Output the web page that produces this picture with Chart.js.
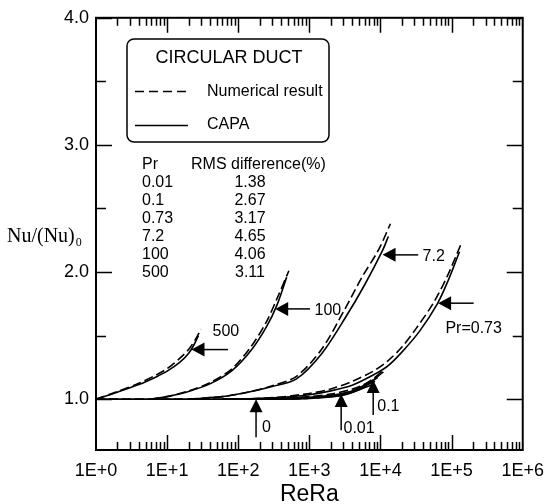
<!DOCTYPE html>
<html>
<head>
<meta charset="utf-8">
<script src="https://cdn.jsdelivr.net/npm/chart.js@4.4.0/dist/chart.umd.min.js"></script>
<style>
  html, body { margin: 0; padding: 0; background: #fff; }
  canvas { display: block; }
</style>
</head>
<body>
<canvas id="chart" width="554" height="504"></canvas>
<script>
// Nu/(Nu)0 vs ReRa, circular duct: numerical result (dashed) and CAPA (solid)
const num500X = [1, 2, 4, 7, 10, 15, 20, 25, 30];
const num500Y = [1.00, 1.06, 1.125, 1.19, 1.24, 1.32, 1.39, 1.47, 1.55];
const capa500X = [1, 2, 4, 7, 10, 15, 20, 24, 27.5];
const capa500Y = [1.00, 1.055, 1.115, 1.175, 1.22, 1.29, 1.36, 1.43, 1.50];

const num100X = [6, 10, 20, 40, 80, 150, 250, 350, 515];
const num100Y = [1.00, 1.02, 1.065, 1.13, 1.235, 1.41, 1.61, 1.79, 2.01];
const capa100X = [6, 10, 20, 40, 80, 150, 250, 350, 480];
const capa100Y = [1.00, 1.02, 1.06, 1.12, 1.22, 1.38, 1.57, 1.74, 1.96];

const num72X = [20, 60, 125, 300, 660, 1480, 3100, 5500, 9300, 13800];
const num72Y = [1.00, 1.02, 1.05, 1.105, 1.18, 1.39, 1.70, 1.96, 2.17, 2.38];
const capa72X = [20, 60, 125, 300, 660, 1500, 3200, 6000, 10700, 12900];
const capa72Y = [1.00, 1.02, 1.05, 1.10, 1.16, 1.36, 1.64, 1.90, 2.17, 2.28];

const num073X = [100, 316, 1000, 2000, 4000, 7900, 12600, 20000, 31600, 56000, 89000, 138000];
const num073Y = [1.00, 1.012, 1.045, 1.08, 1.14, 1.22, 1.30, 1.41, 1.555, 1.76, 1.98, 2.23];
const capa073X = [100, 316, 1000, 2000, 4000, 7900, 12600, 20000, 35500, 63000, 89000, 129000];
const capa073Y = [1.00, 1.01, 1.035, 1.065, 1.11, 1.19, 1.26, 1.37, 1.535, 1.75, 1.93, 2.16];

const num01X = [60, 300, 1000, 2000, 4000, 7100, 11200];
const num01Y = [1.00, 1.006, 1.02, 1.04, 1.08, 1.14, 1.235];
const capa01X = [60, 300, 1000, 2000, 4000, 7800, 11000];
const capa01Y = [1.00, 1.005, 1.015, 1.03, 1.065, 1.15, 1.215];

const num001X = [60, 300, 1000, 2700, 5000, 9500];
const num001Y = [1.00, 1.004, 1.013, 1.04, 1.09, 1.19];
const capa001X = [60, 300, 1000, 2700, 5000, 9100];
const capa001Y = [1.00, 1.003, 1.01, 1.03, 1.075, 1.17];

const num0X = [1, 30, 170, 1000, 3200, 8400];
const num0Y = [1.00, 1.00, 1.00, 1.008, 1.045, 1.14];
const capa0X = [1, 30, 170, 1000, 3200, 8000];
const capa0Y = [1.00, 1.00, 1.00, 1.006, 1.035, 1.12];

const xTicks = [1, 10, 100, 1000, 10000, 100000, 1000000];
const yTicks = [1, 2, 3, 4];
const yHalfTicks = [1.5, 2.5, 3.5];

const tablePr = ['0.01', '0.1', '0.73', '7.2', '100', '500'];
const tableRms = ['1.38', '2.67', '3.17', '4.65', '4.06', '3.11'];

// curve labels and arrows, in data units
const curveLabels = [
    { text: '500', x: 67, y: 1.53 },
    { text: '100', x: 1820, y: 1.695 },
    { text: '7.2', x: 56000, y: 2.125 },
    { text: 'Pr=0.73', x: 204000, y: 1.555 },
    { text: '0', x: 250, y: 0.78 },
    { text: '0.01', x: 5000, y: 0.77 },
    { text: '0.1', x: 12900, y: 0.94 }
];
const leftArrows = [
    { tip: 22, tail: 72, y: 1.39 },
    { tip: 331, tail: 1020, y: 1.71 },
    { tip: 10700, tail: 33900, y: 2.135 },
    { tip: 64600, tail: 204000, y: 1.755 }
];
const upArrows = [
    { x: 178, tip: 1.0, tail: 0.70 },
    { x: 2800, tip: 1.04, tail: 0.755 },
    { x: 7900, tip: 1.15, tail: 0.875 }
];

const SANS = '"Liberation Sans", Arial, sans-serif';
const SERIF = '"Liberation Serif", "Times New Roman", serif';

function pts(xs, ys) {
    return xs.map((v, i) => ({ x: v, y: ys[i] }));
}

function curve(xs, ys, dashed) {
    return {
        data: pts(xs, ys),
        borderColor: '#000',
        borderWidth: 1.6,
        borderDash: dashed ? [9, 4] : [],
        pointRadius: 0,
        fill: false,
        tension: 0.3
    };
}

const datasets = [
    curve(num500X, num500Y, true), curve(capa500X, capa500Y, false),
    curve(num100X, num100Y, true), curve(capa100X, capa100Y, false),
    curve(num72X, num72Y, true), curve(capa72X, capa72Y, false),
    curve(num073X, num073Y, true), curve(capa073X, capa073Y, false),
    curve(num01X, num01Y, true), curve(capa01X, capa01Y, false),
    curve(num001X, num001Y, true), curve(capa001X, capa001Y, false),
    curve(num0X, num0Y, true), curve(capa0X, capa0Y, false)
];

const paperPlugin = {
    id: 'paper',
    beforeDraw(chart) {
        const ctx = chart.ctx;
        ctx.save();
        ctx.fillStyle = '#fff';
        ctx.fillRect(0, 0, chart.width, chart.height);
        ctx.restore();
    },
    afterDraw(chart) {
        const ctx = chart.ctx;
        const a = chart.chartArea;
        const sx = chart.scales.x;
        const sy = chart.scales.y;
        ctx.save();
        ctx.strokeStyle = '#000';
        ctx.fillStyle = '#000';

        // frame
        ctx.lineWidth = 2;
        ctx.strokeRect(a.left, a.top, a.right - a.left, a.bottom - a.top);

        // log ticks on top and bottom, pointing in
        ctx.lineWidth = 1.5;
        ctx.beginPath();
        for (let d = 0; d < 6; d++) {
            for (let m = 1; m < 10; m++) {
                if (d === 0 && m === 1) continue;
                const px = Math.round(sx.getPixelForValue(m * Math.pow(10, d))) + 0.5;
                const len = m === 1 ? 15 : 8;
                ctx.moveTo(px, a.bottom);
                ctx.lineTo(px, a.bottom - len);
                ctx.moveTo(px, a.top);
                ctx.lineTo(px, a.top + len);
            }
        }
        yTicks.concat(yHalfTicks).forEach(v => {
            const py = Math.round(sy.getPixelForValue(v)) + 0.5;
            const len = yTicks.includes(v) ? 16 : 10;
            ctx.moveTo(a.left, py);
            ctx.lineTo(a.left + len, py);
            ctx.moveTo(a.right, py);
            ctx.lineTo(a.right - len, py);
        });
        ctx.stroke();

        // y title
        ctx.textBaseline = 'alphabetic';
        ctx.textAlign = 'left';
        ctx.font = '20px ' + SERIF;
        const title = 'Nu/(Nu)';
        ctx.fillText(title, 7, 242);
        const tw = ctx.measureText(title).width;
        ctx.font = '12px ' + SERIF;
        ctx.fillText('0', 7 + tw + 1, 246);

        // legend box
        const bx = 127, by = 39, bw = 202, bh = 103;
        ctx.lineWidth = 1.5;
        ctx.beginPath();
        ctx.roundRect(bx, by, bw, bh, 7);
        ctx.stroke();
        ctx.font = '18px ' + SANS;
        ctx.textAlign = 'center';
        ctx.textBaseline = 'middle';
        ctx.fillText('CIRCULAR DUCT', 229, 58);
        ctx.textAlign = 'left';
        ctx.font = '16px ' + SANS;
        ctx.fillText('Numerical result', 207, 92);
        ctx.fillText('CAPA', 207, 125);
        ctx.lineWidth = 1.6;
        ctx.setLineDash([9, 5]);
        ctx.beginPath();
        ctx.moveTo(135, 91.5);
        ctx.lineTo(188, 91.5);
        ctx.stroke();
        ctx.setLineDash([]);
        ctx.beginPath();
        ctx.moveTo(135, 125.5);
        ctx.lineTo(188, 125.5);
        ctx.stroke();

        // RMS table
        ctx.font = '16px ' + SANS;
        ctx.textAlign = 'left';
        ctx.fillText('Pr', 142, 165);
        ctx.fillText('RMS difference(%)', 191, 165);
        tablePr.forEach((p, i) => {
            const ty = 183 + i * 18;
            ctx.textAlign = 'left';
            ctx.fillText(p, 142, ty);
            ctx.textAlign = 'center';
            ctx.fillText(tableRms[i], 250, ty);
        });

        // curve labels
        ctx.font = '16px ' + SANS;
        ctx.textAlign = 'center';
        curveLabels.forEach(l => {
            ctx.fillText(l.text, sx.getPixelForValue(l.x), sy.getPixelForValue(l.y));
        });

        // arrows
        ctx.lineWidth = 1.5;
        leftArrows.forEach(ar => {
            const x1 = sx.getPixelForValue(ar.tip);
            const x2 = sx.getPixelForValue(ar.tail);
            const py = sy.getPixelForValue(ar.y);
            ctx.beginPath();
            ctx.moveTo(x1 + 10, py);
            ctx.lineTo(x2, py);
            ctx.stroke();
            ctx.beginPath();
            ctx.moveTo(x1, py);
            ctx.lineTo(x1 + 13, py - 7);
            ctx.lineTo(x1 + 13, py + 7);
            ctx.closePath();
            ctx.fill();
        });
        upArrows.forEach(ar => {
            const px = sx.getPixelForValue(ar.x);
            const y1 = sy.getPixelForValue(ar.tip);
            const y2 = sy.getPixelForValue(ar.tail);
            ctx.beginPath();
            ctx.moveTo(px, y1 + 10);
            ctx.lineTo(px, y2);
            ctx.stroke();
            ctx.beginPath();
            ctx.moveTo(px, y1);
            ctx.lineTo(px - 6.5, y1 + 13);
            ctx.lineTo(px + 6.5, y1 + 13);
            ctx.closePath();
            ctx.fill();
        });
        ctx.restore();
    }
};

new Chart(document.getElementById('chart').getContext('2d'), {
    type: 'line',
    data: { datasets: datasets },
    options: {
        responsive: false,
        animation: false,
        layout: { padding: { top: 15, right: 24, left: 0, bottom: 0 } },
        plugins: {
            legend: { display: false },
            tooltip: { enabled: false }
        },
        scales: {
            x: {
                type: 'logarithmic',
                min: 1,
                max: 1000000,
                afterBuildTicks: scale => { scale.ticks = xTicks.map(v => ({ value: v })); },
                afterFit: scale => { scale.height = 54; },
                grid: { display: false, drawTicks: false },
                border: { display: false },
                ticks: {
                    autoSkip: false,
                    maxRotation: 0,
                    padding: 10,
                    color: '#000',
                    font: { family: SANS, size: 18 },
                    callback: v => '1E+' + Math.round(Math.log10(v))
                },
                title: {
                    display: true,
                    text: 'ReRa',
                    color: '#000',
                    font: { family: SANS, size: 23, lineHeight: 1 },
                    padding: { top: 0, bottom: -2 }
                }
            },
            y: {
                type: 'linear',
                min: 0.6,
                max: 4.0,
                afterBuildTicks: scale => { scale.ticks = yTicks.map(v => ({ value: v })); },
                afterFit: scale => { scale.width = 96; },
                grid: { display: false, drawTicks: false },
                border: { display: false },
                ticks: {
                    padding: 7,
                    color: '#000',
                    font: { family: SANS, size: 18 },
                    callback: v => Number(v).toFixed(1)
                }
            }
        }
    },
    plugins: [paperPlugin]
});
</script>
</body>
</html>
